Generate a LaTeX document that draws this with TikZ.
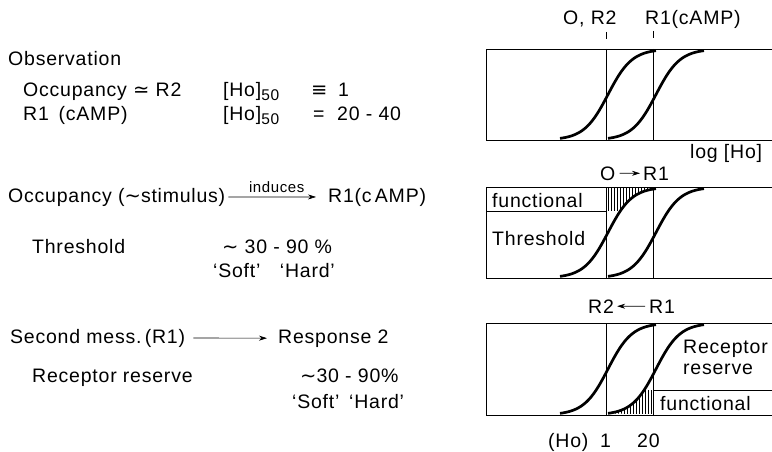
\documentclass[tikz,border=0pt]{standalone}
\usepackage{fontspec}
\setmainfont{Liberation Sans}[LetterSpace=4]
\newfontfamily\symf{DejaVu Sans}
\usetikzlibrary{arrows.meta}
\newcommand\sbs[1]{\raisebox{-4pt}{\fontsize{15.5}{15.5}\selectfont #1}}
\newcommand\drawpanel[2]{%
  \draw[frame] (772,#1) -- (486,#1) -- (486,#2) -- (772,#2);
  \draw[frame] (606,#1) -- (606,#2) (653,#1) -- (653,#2);
  \begin{scope}
    \clip (486,#1) rectangle (772,#2);
    \draw[curve] plot[domain=560:656,samples=70] (\x,{#2-(#2-#1)/(1+exp(-(\x-608)/12))});
    \draw[curve] plot[domain=608:704,samples=70] (\x,{#2-(#2-#1)/(1+exp(-(\x-656)/12))});
  \end{scope}}
\begin{document}
\begin{tikzpicture}[x=1pt,y=-1pt,
  txt/.style={inner sep=0pt,anchor=base west,font=\fontsize{19.5}{22}\selectfont},
  small/.style={inner sep=0pt,font=\fontsize{15}{17}\selectfont},
  frame/.style={line width=0.9pt},
  curve/.style={line width=2.7pt},
  hatch/.style={line width=0.6pt},
  arr/.style={-{Stealth[length=8pt,width=5pt]},line width=0.6pt}]
\useasboundingbox (0,0) rectangle (772,452);

% ---------- left column ----------
\node[txt] (obs) at (8,66) {Observation};
\node[txt] (occ) at (23,97) {Occupancy {\symf ≃} R2};
\node[txt] (ho1) at (223,97) {[Ho]\sbs{50}};
\node[txt] (eq1) at (311,97) {{\symf ≡}};
\node[txt] (one) at (338,97) {1};
\node[txt] (r1) at (23,121) {R1\enspace(cAMP)};
\node[txt] (ho2) at (223,121) {[Ho]\sbs{50}};
\node[txt] (eq2) at (313,121) {=};
\node[txt] (rng) at (337,121) {20 - 40};

\node[txt] (occs) at (8,202) {Occupancy ({\symf ∼}stimulus)};
\node[txt] (r1c) at (328,202) {R1(c\,AMP)};
\draw[arr,shorten <=3pt,shorten >=12pt] (occs.east) -- (r1c.west)
  node[small,midway,above=4pt] (ind) {induces};

\node[txt] (thr) at (32,253) {Threshold};
\node[txt] (pc1) at (222,253) {{\symf ∼} 30 - 90 \%};
\node[txt] (sh1) at (213,277) {`Soft'\quad`Hard'};

\node[txt] (sm) at (10,343) {Second mess.\,(R1)};
\node[txt] (resp) at (278,343) {Response 2};
\draw[arr,shorten <=8pt,shorten >=11pt] (sm.east) -- (resp.west);

\node[txt] (rr) at (32,382) {Receptor reserve};
\node[txt] (pc2) at (300,382) {{\symf ∼}30 - 90\%};
\node[txt] (sh2) at (292,408) {`Soft'\enspace`Hard'};

% ---------- right column ----------
\node[txt] (lo) at (563,25) {O, R2};
\node[txt] (lr) at (645,25) {R1(cAMP)};
\draw[frame] (606,32) -- (606,39);
\draw[frame] (653,31) -- (653,38);

% hatching panel 2
\begin{scope}
  \clip (606,187) rectangle (653,211);
  \clip plot[domain=558:658,samples=70] (\x,{278-91/(1+exp(-(\x-608)/12))}) -- (658,187) -- (486,187) -- (486,278) -- cycle;
  \foreach \h in {608.5,611.5,...,652} \draw[hatch] (\h,187) -- (\h,211);
\end{scope}
% hatching panel 3
\begin{scope}
  \clip (606,390) rectangle (653,415);
  \clip plot[domain=606:706,samples=70] (\x,{415-92/(1+exp(-(\x-656)/12))}) -- (772,323) -- (772,415) -- cycle;
  \foreach \h in {609,612,...,652} \draw[hatch] (\h,390) -- (\h,415);
\end{scope}

\drawpanel{49}{140}
\drawpanel{187}{278}
\drawpanel{323}{415}
\draw[frame] (486,211) -- (606,211);
\draw[frame] (653,390) -- (772,390);

\node[txt] (log) at (690,158) {log [Ho]};
\node[txt] (o2) at (600,180) {O};
\node[txt] (r12) at (643,180) {R1};
\draw[arr,shorten <=4pt,shorten >=3pt] (o2.east) -- (r12.west);

\node[txt] (fn2) at (492,207) {functional};
\node[txt] (th2) at (492,245) {Threshold};

\node[txt] (r2c) at (588,313) {R2};
\node[txt] (r1d) at (649,313) {R1};
\draw[arr,shorten <=4pt,shorten >=3pt] (r1d.west) -- (r2c.east);

\node[txt] (rc3) at (683,353) {Receptor};
\node[txt] (rs3) at (683,374) {reserve};
\node[txt] (fn3) at (660,410) {functional};

\node[txt] (hox) at (548,447) {(Ho)};
\node[txt] (x1) at (600,447) {1};
\node[txt] (x20) at (637,447) {20};
\end{tikzpicture}
\end{document}
